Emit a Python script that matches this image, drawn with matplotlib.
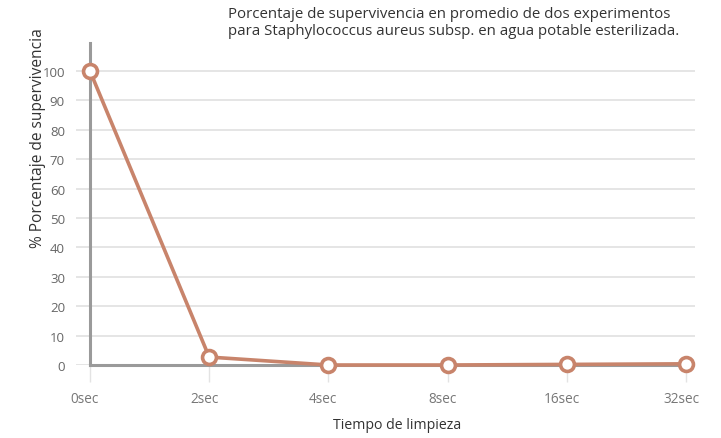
import matplotlib.pyplot as plt
import matplotlib.transforms as mtransforms
import numpy as np

tiempos = ["0sec", "2sec", "4sec", "8sec", "16sec", "32sec"]
supervivencia = [100.0, 2.7, 0.0, 0.0, 0.2, 0.4]
y_ticks = [0, 10, 20, 30, 40, 50, 60, 70, 80, 90, 100]

titulo = ("Porcentaje de supervivencia en promedio de dos experimentos\n"
          "para Staphylococcus aureus subsp. en agua potable esterilizada.")


def _main():
    plt.rcParams["font.family"] = ["Open Sans", "DejaVu Sans"]

    W, H = 721, 439
    fig = plt.figure(figsize=(W / 100, H / 100), dpi=100)
    ax = fig.add_axes([76 / W, 1 - 366 / H, (695 - 76) / W, (366 - 44) / H])

    col = "#c8846b"
    x = np.arange(len(tiempos))

    ax.plot(x, supervivencia, color=col, linewidth=2.6, marker="o",
            markersize=10, markerfacecolor="white", markeredgecolor=col,
            markeredgewidth=2.6, clip_on=False, zorder=5)

    ax.set_xlim(-0.117, 5.075)
    ax.set_ylim(0, 109.5)

    ax.set_yticks(y_ticks)
    ax.set_xticks(x)
    ax.set_xticklabels(tiempos)
    ax.grid(axis="y", color="#e3e3e3", linewidth=1.3)
    ax.set_axisbelow(True)

    for s in ["top", "right"]:
        ax.spines[s].set_visible(False)
    ax.spines["left"].set_position(("data", 0))
    ax.spines["left"].set_color("#9a9a9a")
    ax.spines["left"].set_linewidth(2.2)
    ax.spines["bottom"].set_color("#9a9a9a")
    ax.spines["bottom"].set_linewidth(2.2)
    ax.spines["bottom"].set_bounds(0, 5)

    ax.tick_params(axis="y", length=0, pad=18, labelsize=9.5, labelcolor="#666666")
    ax.tick_params(axis="x", length=12, width=1, color="#e3e3e3", pad=7,
                   labelsize=9.8, labelcolor="#777777")

    # labels in the reference sit a little left of their ticks
    shift = mtransforms.ScaledTranslation(-5 / 100, 0, fig.dpi_scale_trans)
    for lbl in ax.get_xticklabels():
        lbl.set_transform(lbl.get_transform() + shift)

    fig.text(397 / W, 1 - 426 / H, "Tiempo de limpieza", ha="center",
             va="center", fontsize=10.2, color="#333333")
    fig.text(38 / W, 1 - 138 / H, "% Porcentaje de supervivencia",
             rotation=90, ha="center", va="center", fontsize=11.2,
             color="#333333")
    fig.text(228 / W, 1 - 7 / H, titulo, ha="left", va="top", fontsize=10.8,
             color="#333333", linespacing=1.2)

    fig.savefig("out.png", dpi=100)


if __name__ == "__main__":
    _main()
